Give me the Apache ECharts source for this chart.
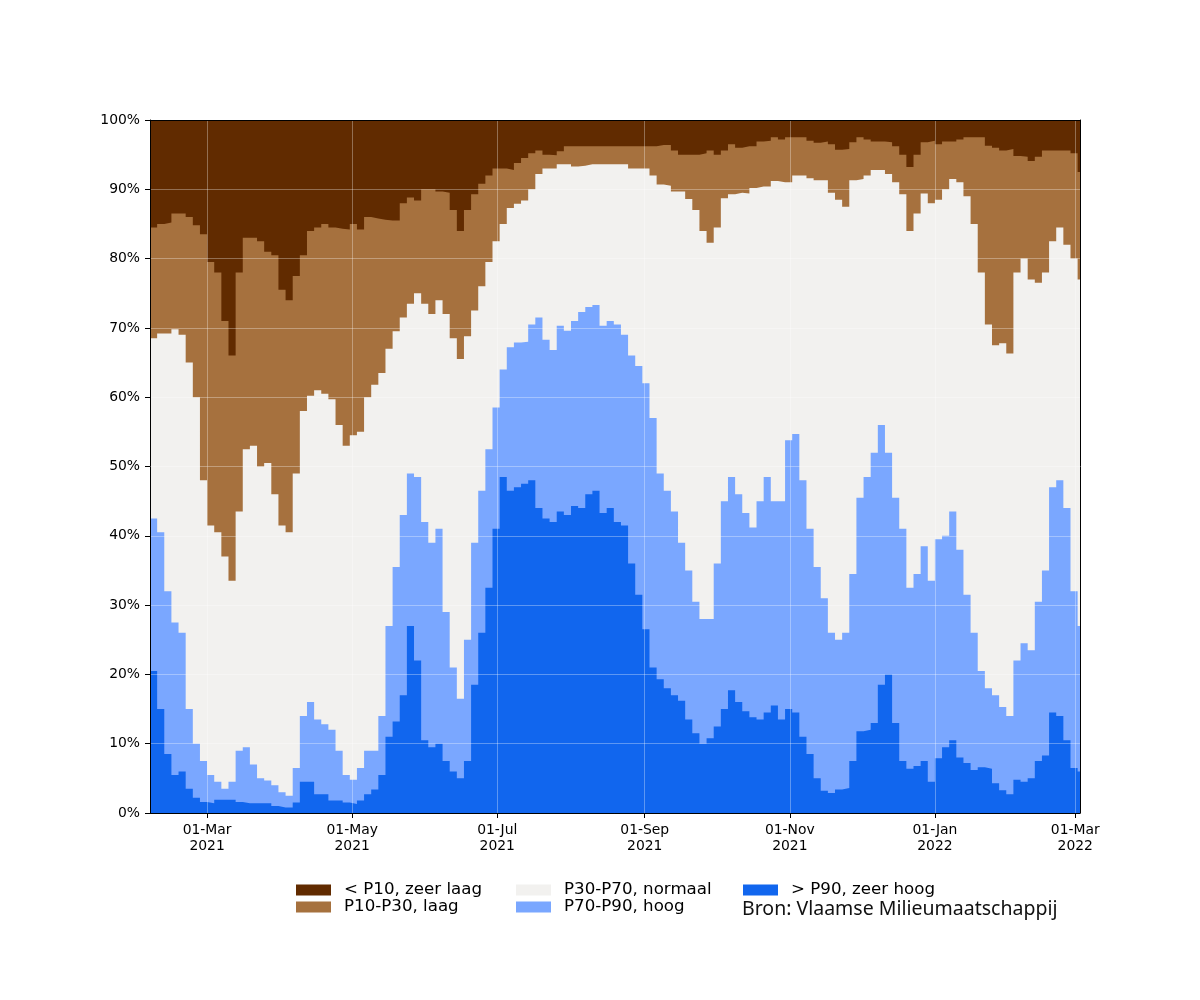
<!DOCTYPE html>
<html>
<head>
<meta charset="utf-8">
<script src="https://cdn.jsdelivr.net/npm/echarts@6.0.0/dist/echarts.min.js"></script>
<style>
html, body { margin: 0; padding: 0; background: #ffffff; }
#chart { width: 1200px; height: 1000px; }
</style>
</head>
<body>
<div id="chart"></div>
<script>
// Days counted from 2021-02-05; each value covers a 3-day bin.
const startDate = '2021-02-05';
const daysPerBin = 3;
const totalDays = 391;

// x-axis ticks (days since startDate) and their labels
const tickDays = [24, 85, 146, 208, 269, 330, 389];
const tickLabels = ['01-Mar\n2021', '01-May\n2021', '01-Jul\n2021', '01-Sep\n2021', '01-Nov\n2021', '01-Jan\n2022', '01-Mar\n2022'];

// Class names
const classNames = ['< P10, zeer laag', 'P10-P30, laag', 'P30-P70, normaal', 'P70-P90, hoog', '> P90, zeer hoog'];

// Cumulative percentage (from bottom) at the top of each class band, read per 3-day bin
const cumLaag = [84.5, 85, 85.2, 86.5, 86.5, 86, 84.8, 83.5, 79.5, 78, 71, 66, 78, 83, 83, 82.5, 81, 80.5, 75.5, 74, 77.5, 80.5,
  84, 84.5, 85, 84.5, 84.3, 84.2, 85, 84.2, 86, 85.8, 85.6, 85.5, 85.5, 88, 88.8, 88.4, 90, 90, 89.7, 89.5, 87, 84,
  87, 89.3, 90.8, 92, 93, 93, 92.8, 93.8, 94.5, 95.2, 95.6, 95, 94.9, 95.5, 96.2, 96.2, 96.2, 96.2, 96.2, 96.2, 96.2,
  96.2, 96.2, 96.2, 96.2, 96.2, 96.2, 96.4, 96.4, 95.6, 95, 95, 95, 95.2, 95.6, 95, 95.6, 96.5, 96, 96.2, 96.2, 96.9, 97,
  97.5, 97.2, 97.5, 97.5, 97.5, 97, 96.7, 96.9, 96.5, 95.7, 95.8, 96.8, 97.5, 97.2, 96.9, 96.9, 96.8, 96.2, 95, 93.2, 95, 96.8,
  97, 96.5, 96.9, 96.9, 97.2, 97.5, 97.5, 97.5, 96.3, 96, 95.6, 95.8, 94.8, 94.7, 94.1, 94.7, 95.6, 95.6, 95.6, 95.6, 95.2, 92.5];

const cumNormaal = [68.5, 69.2, 69.2, 69.8, 69, 65, 60, 48, 41.5, 40.5, 37, 33.5, 43.5, 52.5, 53, 50, 50.5, 46, 41.5, 40.5, 49, 58,
  60.2, 61, 60.5, 59.7, 56, 53, 54.5, 55, 60, 61.8, 63.5, 67, 69.5, 71.5, 73.5, 75, 73.5, 72, 74, 72, 68.5, 65.5,
  68.8, 72.5, 76, 79.5, 82.5, 85, 87.3, 87.9, 88.4, 90, 92.2, 93, 93, 93.6, 93.6, 93.3, 93.4, 93.6, 93.6, 93.6, 93.6,
  93.6, 93.6, 93, 93, 93, 92, 90.7, 90.5, 89.7, 89.7, 88.6, 87, 84, 82.3, 84.5, 88.7, 89.3, 89.5, 89.4, 90.2, 90.4, 90.4,
  91.2, 91, 91, 92, 92, 91.6, 91.3, 91.3, 89.5, 88.5, 87.5, 91.3, 91.5, 92, 92.8, 92.8, 92.2, 91, 89.3, 84, 86.5, 89.4,
  88, 88.5, 90, 91.5, 91, 89, 85, 78, 70.5, 67.5, 67.8, 66.3, 78, 80, 77, 76.5, 78, 82.5, 84.5, 82, 80, 77];

const cumHoog = [42.5, 40.5, 32, 27.5, 26, 15, 10, 7.5, 5.5, 4.5, 3.5, 4.5, 9, 9.5, 7, 5, 4.7, 4, 3, 2.5, 6.5, 14,
  16, 13.5, 12.8, 12, 9, 5.5, 4.8, 6.5, 9, 9, 14, 27, 35.5, 43, 49, 48.5, 42, 39, 41, 29, 21, 16.5,
  25, 39, 46.5, 52.5, 58.5, 64, 67.2, 67.9, 68, 70.5, 71.5, 68.3, 66.8, 70.3, 69.6, 71, 72.3, 73, 73.3, 70.3, 71,
  70.5, 69, 66, 64.5, 62, 57, 49, 46.5, 43.5, 39, 35, 30.5, 28, 28, 36, 45, 48.5, 46, 43.3, 41.2, 45, 48.5,
  45, 45, 53.8, 54.7, 48, 41, 35.5, 31, 26, 25, 26, 34.5, 45.5, 48.5, 52, 56, 52, 45.5, 41, 32.5, 34.5, 38.5,
  33.5, 39.5, 40, 43.5, 38, 31.5, 26, 20.5, 18, 17, 15.3, 14, 22, 24.5, 23.5, 30.5, 35, 47, 48, 44, 32, 27];

const cumZeerHoog = [20.5, 15, 8.5, 5.5, 6, 3.5, 2.2, 1.6, 1.4, 1.9, 1.9, 1.9, 1.6, 1.4, 1.4, 1.4, 1.4, 1.0, 0.8, 0.8, 1.5, 4.5,
  4.5, 2.7, 2.7, 1.8, 1.8, 1.5, 1.3, 1.8, 2.7, 3.4, 5.5, 11, 13.2, 17, 27, 22, 10.5, 9.5, 10, 7.5, 6, 5,
  7.5, 18.5, 26, 32.5, 41, 48.5, 46.5, 47, 47.5, 48, 44, 42.5, 42, 43.5, 43, 44.3, 44, 46, 46.5, 43.3, 44,
  42, 41.5, 36, 31.5, 26.5, 21, 19.3, 18, 17, 16.2, 13.5, 11.5, 10, 10.8, 12.5, 15, 17.7, 16, 14.7, 13.8, 13.5, 14.5,
  15.5, 13.5, 15, 14.5, 11, 8.5, 5, 3.2, 2.9, 3.4, 3.6, 7.5, 11.8, 12, 13, 18.5, 20, 13, 7.5, 6.4, 6.8, 7.5,
  4.5, 7.9, 9.5, 10.5, 8, 7.2, 6.2, 6.6, 6.4, 4.3, 3.3, 2.7, 4.8, 4.5, 5, 7.5, 8.3, 14.5, 14, 10.5, 6.5, 6];

const classColors = ['#612b00', '#a6713e', '#f2f1ef', '#7aa7ff', '#1166ee'];

const FONT = 'DejaVu Sans';

function toPoints(arr) {
  const p = arr.map((v, k) => [k * daysPerBin, v]);
  p.push([totalDays, arr[arr.length - 1]]);
  return p;
}

const layers = [cumLaag.map(() => 100), cumLaag, cumNormaal, cumHoog, cumZeerHoog];

const series = layers.map((arr, i) => ({
  name: classNames[i],
  type: 'line',
  step: 'end',
  data: toPoints(arr),
  showSymbol: false,
  symbol: 'none',
  silent: true,
  color: classColors[i],
  itemStyle: { color: classColors[i] },
  lineStyle: { width: 0, opacity: 0 },
  areaStyle: { color: classColors[i], opacity: 1, origin: 'start' },
  z: 2 + i * 0.01,
  xAxisIndex: 0,
  yAxisIndex: 0
}));

function legendBlock(left, names) {
  return {
    orient: 'vertical',
    left: left,
    top: 881.5,
    padding: 0,
    itemGap: 0,
    itemWidth: 35,
    itemHeight: 11,
    icon: 'rect',
    selectedMode: false,
    data: names,
    textStyle: { fontFamily: FONT, fontSize: 16.67, lineHeight: 14.7, color: '#000', padding: [0, 0, 0, 8] }
  };
}

const gridLine = { show: true, lineStyle: { color: 'rgba(255,255,255,0.32)', width: 1 } };

const option = {
  animation: false,
  backgroundColor: '#ffffff',
  textStyle: { fontFamily: FONT },
  grid: { left: 150, right: 120, top: 120, bottom: 187, containLabel: false },
  title: {
    text: 'Bron: Vlaamse Milieumaatschappij',
    left: 742,
    top: 898,
    padding: 0,
    textStyle: { fontFamily: 'Noto Sans', fontSize: 19.5, fontWeight: 'normal', color: '#111', lineHeight: 22 }
  },
  legend: [
    legendBlock(296, [classNames[0], classNames[1]]),
    legendBlock(516, [classNames[2], classNames[3]]),
    legendBlock(743, [classNames[4]])
  ],
  xAxis: [
    {
      type: 'value', min: 0, max: totalDays, z: 10,
      axisLine: { show: true, onZero: false, lineStyle: { color: '#000', width: 1 } },
      axisTick: { show: true, length: 5, customValues: tickDays, lineStyle: { color: '#000' } },
      axisLabel: {
        customValues: tickDays,
        formatter: v => { const i = tickDays.indexOf(Math.round(v)); return i >= 0 ? tickLabels[i] : ''; },
        color: '#000', fontFamily: FONT, fontSize: 13.9, lineHeight: 16, margin: 9
      },
      splitLine: Object.assign({ customValues: tickDays }, gridLine)
    },
    {
      type: 'value', position: 'top', min: 0, max: totalDays, z: 10,
      axisLine: { show: true, onZero: false, lineStyle: { color: '#000', width: 1 } },
      axisTick: { show: false }, axisLabel: { show: false }, splitLine: { show: false }
    }
  ],
  yAxis: [
    {
      type: 'value', min: 0, max: 100, interval: 10, z: 10,
      axisLine: { show: true, onZero: false, lineStyle: { color: '#000', width: 1 } },
      axisTick: { show: true, length: 5, lineStyle: { color: '#000' } },
      axisLabel: { formatter: '{value}%', color: '#000', fontFamily: FONT, fontSize: 13.9, margin: 10 },
      splitLine: gridLine
    },
    {
      type: 'value', position: 'right', min: 0, max: 100, z: 10,
      axisLine: { show: true, onZero: false, lineStyle: { color: '#000', width: 1 } },
      axisTick: { show: false }, axisLabel: { show: false }, splitLine: { show: false }
    }
  ],
  series: series
};

const chart = echarts.init(document.getElementById('chart'), null, { renderer: 'canvas' });
chart.setOption(option);
</script>
</body>
</html>
